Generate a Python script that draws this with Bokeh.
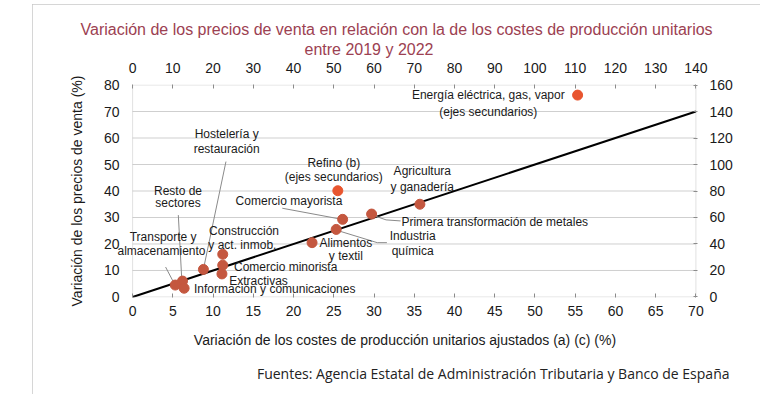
import math
from bokeh.plotting import figure
from bokeh.models import (Range1d, LinearAxis, SingleIntervalTicker, ColumnDataSource,
                          Title, BoxAnnotation)
from bokeh.core.properties import value
from bokeh.embed import file_html
from bokeh.resources import INLINE

# ---------------- data ----------------
sectors = ["Energía eléctrica, gas, vapor", "Refino", "Agricultura y ganadería",
           "Primera transformación de metales", "Comercio mayorista", "Industria química",
           "Alimentos y textil", "Construcción y act. inmob.", "Comercio minorista",
           "Hostelería y restauración", "Extractivas", "Resto de sectores",
           "Transporte y almacenamiento", "Información y comunicaciones"]
cost_var = [55.3, 25.5, 35.7, 29.7, 26.1, 25.3, 22.3, 11.2, 11.2, 8.8, 11.1, 6.2, 5.3, 6.4]
price_var = [76.2, 40.1, 35.0, 31.3, 29.3, 25.5, 20.5, 16.1, 12.0, 10.4, 8.7, 6.0, 4.5, 3.3]
secondary = [True, True, False, False, False, False, False, False, False, False, False, False, False, False]

diag_x = [0, 70]
diag_y = [0, 70]

x_min, x_max = 0, 70
y_min, y_max = 0, 80
x_ticks_step = 5
y_ticks_step = 10
top_ticks_step = 10
right_ticks_step = 20
grid_levels = [10, 20, 30, 40, 50, 60, 70]

# label lines (text, x, y, align) in data coordinates
label_text = ["Hostelería y", "restauración", "Refino (b)", "(ejes secundarios)",
              "Resto de", "sectores", "Comercio mayorista", "Agricultura", "y ganadería",
              "Primera transformación de metales", "Industria", "química",
              "Alimentos", "y textil", "Construcción", "y act. inmob.",
              "Transporte y", "almacenamiento",
              "Comercio minorista", "Extractivas",
              "Información y comunicaciones", "Energía eléctrica, gas, vapor",
              "(ejes secundarios)"]
label_x = [11.69, 11.69, 25.0, 25.0, 5.64, 5.64, 12.8, 36.0, 36.0, 33.4, 34.8, 34.8,
           26.5, 26.5, 13.84, 13.64, 3.79, 3.59, 12.6, 12.0, 7.63, 44.2, 44.2]
label_y = [61.5, 55.8, 50.6, 45.3, 40.1, 35.4, 36.2, 47.5, 41.6, 28.2, 23.1, 17.4,
           20.3, 15.5, 25.0, 19.5, 22.5, 17.5, 11.2, 6.0, 2.9, 76.2, 69.9]
label_align = ["center", "center", "center", "center", "center", "center", "left",
               "center", "center", "left", "center", "center", "center", "center",
               "center", "center", "center", "center", "left", "left", "left",
               "center", "center"]

leader_xs = [[11.6, 8.87], [5.68, 6.09], [18.6, 25.66], [29.8, 31.5, 33.3],
             [25.24, 30.4, 31.6], [4.1, 5.2]]
leader_ys = [[51.1, 11.5], [30.9, 7.66], [33.5, 29.5], [30.9, 29.1, 28.7],
             [25.3, 20.5, 20.5], [11.3, 4.9]]

title_1 = "Variación de los precios de venta en relación con la de los costes de producción unitarios"
title_2 = "entre 2019 y 2022"
x_label = "Variación de los costes de producción unitarios ajustados (a) (c) (%)"
y_label = "Variación de los precios de venta (%)"
source_note = "Fuentes: Agencia Estatal de Administración Tributaria y Banco de España"

# ---------------- figure ----------------
FONT = "Liberation Sans"
TXT = "#1a1a1a"
TITLE_C = "#9c4152"
p = figure(width=728, height=390, margin=(4, 4, 3, 32),
           output_backend="svg", toolbar_location=None, title_location=None,
           x_range=Range1d(-2.5, 70.2), y_range=Range1d(-0.2, 80.2),
           min_border_left=80, min_border_right=63, min_border_top=80,
           min_border_bottom=97)
p.styles = {"outline": "1px solid #c8c8c8", "outline-offset": "-1px"}
p.background_fill_color = "white"
p.border_fill_color = "white"
p.outline_line_color = None

p.extra_x_ranges = {"top": Range1d(-5, 140.4)}
p.extra_y_ranges = {"right": Range1d(-0.4, 160.4)}

bottom = p.below[0]
left = p.left[0]
bottom.ticker = SingleIntervalTicker(interval=x_ticks_step, num_minor_ticks=0)
left.ticker = SingleIntervalTicker(interval=y_ticks_step, num_minor_ticks=0)
top = LinearAxis(x_range_name="top",
                 ticker=SingleIntervalTicker(interval=top_ticks_step, num_minor_ticks=0))
right = LinearAxis(y_range_name="right",
                   ticker=SingleIntervalTicker(interval=right_ticks_step, num_minor_ticks=0))
p.add_layout(top, "above")
p.add_layout(right, "right")

for ax in (bottom, left, top, right):
    ax.axis_line_color = None
    ax.minor_tick_line_color = None
    ax.major_tick_line_color = "#8a8a8a"
    ax.major_tick_out = 0
    ax.major_tick_in = 4
    ax.major_label_text_font = FONT
    ax.major_label_text_font_size = "14px"
    ax.major_label_text_color = TXT
    ax.axis_label_text_font = FONT
    ax.axis_label_text_font_size = "14px"
    ax.axis_label_text_font_style = "normal"
    ax.axis_label_text_color = TXT
left.major_tick_in = 0
bottom.major_label_standoff = 8
left.major_label_standoff = -7
top.major_label_standoff = 12
right.major_label_standoff = 12
bottom.axis_label = x_label
bottom.axis_label_standoff = 13
left.axis_label = y_label
left.axis_label_standoff = 16

# titles (stacked outward from the top axis)
p.add_layout(Title(text=title_2, align="left", offset=192, text_font=FONT,
                   text_font_size="16px", text_font_style="normal",
                   text_color=TITLE_C, standoff=3), "above")
p.add_layout(Title(text=title_1, align="left", offset=-32, text_font=FONT,
                   text_font_size="16px", text_font_style="normal",
                   text_color=TITLE_C, standoff=0), "above")
p.add_layout(Title(text=source_note, align="right", offset=-32, text_font="Open Sans",
                   text_font_size="14px", text_font_style="normal",
                   text_color="#222222", standoff=23), "below")

p.grid.visible = False
# plot box and horizontal grid lines
p.segment(x0=[x_min] * len(grid_levels), x1=[x_max] * len(grid_levels),
          y0=grid_levels, y1=grid_levels, line_color="#cfcfcf", line_width=1)
p.add_layout(BoxAnnotation(left=x_min, right=x_max, bottom=y_min, top=y_max,
                           fill_color=None, line_color="#9a9a9a", line_width=1))

# diagonal
p.line(diag_x, diag_y, line_color="black", line_width=2)

# leaders
p.multi_line(leader_xs, leader_ys, line_color="#8a8a8a", line_width=1)

# points
colors = ["#e8552f" if s else "#c4573f" for s in secondary]
src = ColumnDataSource(dict(x=cost_var, y=price_var, c=colors, name=sectors))
p.scatter("x", "y", source=src, size=10, fill_color="c", line_color="c")

# labels
lsrc = ColumnDataSource(dict(x=label_x, y=label_y, t=label_text, a=label_align))
p.text("x", "y", text="t", source=lsrc, text_align="a", text_baseline="middle",
       text_font=value(FONT), text_font_size="12px", text_color=TXT)

open("out.html", "w").write(file_html(p, INLINE))
